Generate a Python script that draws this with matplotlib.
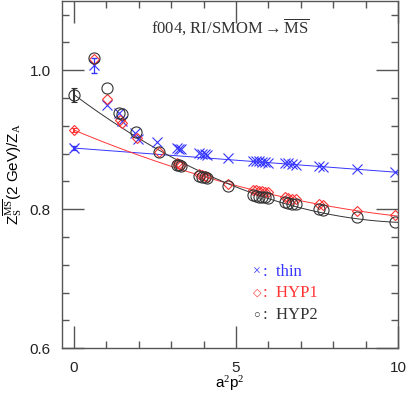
import numpy as np
import matplotlib
matplotlib.use("Agg")
import matplotlib.pyplot as plt
from matplotlib.ticker import MultipleLocator

plt.rcParams['mathtext.fontset'] = 'custom'
plt.rcParams['mathtext.rm'] = 'Liberation Serif'
plt.rcParams['mathtext.it'] = 'Liberation Serif:italic'

# extrapolated values at a^2p^2 = 0  (thin, HYP1, HYP2)
ext_y = [0.888, 0.914, 0.965]
ext_err = [0.003, 0.003, 0.010]

thin_x = [0.63, 1.01, 1.38, 1.48, 1.90, 1.98, 2.57, 3.18, 3.25, 3.32, 3.86, 3.95, 4.05, 4.12, 4.77,
          5.52, 5.62, 5.72, 5.80, 5.90, 5.98, 6.50, 6.62, 6.72, 6.85, 7.55, 7.68, 8.73, 9.90]
thin_y = [1.007, 0.950, 0.938, 0.927, 0.909, 0.901, 0.897, 0.888, 0.887, 0.886, 0.881, 0.880, 0.879, 0.878, 0.874,
          0.870, 0.869, 0.869, 0.868, 0.868, 0.867, 0.866, 0.866, 0.865, 0.864, 0.862, 0.861, 0.858, 0.853]
thin_err0 = 0.011   # error on the lowest-momentum thin point

hyp1_x = [0.63, 1.01, 1.42, 1.48, 1.95, 2.62, 3.18, 3.25, 3.32, 3.86, 3.95, 4.05, 4.12, 4.77,
          5.52, 5.62, 5.72, 5.80, 5.90, 5.98, 6.50, 6.62, 6.72, 6.85, 7.55, 7.68, 8.73, 9.90]
hyp1_y = [1.016, 0.959, 0.928, 0.924, 0.902, 0.882, 0.866, 0.865, 0.864, 0.850, 0.849, 0.848, 0.847, 0.836,
          0.828, 0.827, 0.826, 0.826, 0.825, 0.824, 0.817, 0.816, 0.815, 0.814, 0.807, 0.806, 0.797, 0.791]

hyp2_x = [0.63, 1.01, 1.38, 1.48, 1.92, 2.62, 3.18, 3.25, 3.32, 3.86, 3.95, 4.05, 4.12, 4.77,
          5.52, 5.62, 5.72, 5.80, 5.90, 5.98, 6.50, 6.62, 6.72, 6.85, 7.55, 7.68, 8.73, 9.90]
hyp2_y = [1.018, 0.974, 0.939, 0.937, 0.911, 0.882, 0.864, 0.863, 0.862, 0.848, 0.847, 0.846, 0.845, 0.834,
          0.820, 0.819, 0.818, 0.818, 0.817, 0.816, 0.810, 0.809, 0.808, 0.807, 0.800, 0.799, 0.789, 0.781]

# fit curves a + b x + c x^2
fit_thin = [0.888, -0.0035, 0.0]
fit_hyp1 = [0.914, -0.0196, 0.00072]
fit_hyp2 = [0.965, -0.0348, 0.00164]

blue = '#3535ff'
red = '#ff3535'
black = '#333333'

fig = plt.figure(figsize=(4.07, 3.96), dpi=100)
ax = fig.add_axes([0.152, 0.121, 0.826, 0.877])

xx = np.linspace(0, 10, 200)
for fit, c in [(fit_thin, blue), (fit_hyp1, red), (fit_hyp2, black)]:
    ax.plot(xx, fit[0] + fit[1] * xx + fit[2] * xx**2, color=c, lw=0.7)

# data points
ax.plot(thin_x, thin_y, 'x', color=blue, ms=7, mew=0.8)
ax.errorbar(thin_x[:1], thin_y[:1], yerr=[thin_err0], fmt='none', ecolor=blue, elinewidth=0.9, capsize=2.5)
ax.plot(hyp1_x, hyp1_y, 'D', color=red, mfc='none', ms=5, mew=0.8)
ax.plot(hyp2_x, hyp2_y, 'o', color=black, mfc='none', ms=8, mew=0.8)

ax.errorbar([0], [ext_y[0]], yerr=[ext_err[0]], fmt='x', color=blue, ms=7, mew=0.9, capsize=2.5)
ax.errorbar([0], [ext_y[1]], yerr=[ext_err[1]], fmt='D', color=red, mfc='none', ms=5, mew=0.8, capsize=2)
ax.errorbar([0], [ext_y[2]], yerr=[ext_err[2]], fmt='o', color=black, mfc='none', ms=8, mew=0.8, capsize=2.5)

ax.set_xlim(-0.37, 10)
ax.set_ylim(0.6, 1.1)
ax.xaxis.set_minor_locator(MultipleLocator(1))
ax.yaxis.set_minor_locator(MultipleLocator(0.04))
ax.tick_params(which='both', direction='in', top=True, right=True, color='#555555',
               labelsize=11, labelcolor='#222222')
ax.tick_params(axis='x', pad=9)
ax.tick_params(axis='y', pad=8)
ax.tick_params(which='major', length=16, width=1)
ax.tick_params(which='minor', length=5, width=1)
ax.set_xticks([0, 5, 10])
ax.set_xticklabels(['0', '5', '10'], family='Liberation Sans')
ax.set_yticks([0.6, 0.8, 1.0])
ax.set_yticklabels(['0.6', '0.8', '1.0'], family='Liberation Sans')
for s in ax.spines.values():
    s.set_color('#555555')
    s.set_linewidth(1)

ax.set_xlabel(r'a$^2$p$^2$', fontsize=11, family='Liberation Sans', labelpad=0)
ax.set_ylabel(r'Z$_{\rm S}^{\overline{\rm MS}}$(2 GeV)/Z$_{\rm A}$', fontsize=11,
              family='Liberation Sans', labelpad=4)

ax.text(0.5, 0.925, r'f004, RI/SMOM$\rightarrow\overline{\rm MS}$', transform=ax.transAxes,
        fontsize=12, family='Liberation Serif', ha='center', va='center', color=black)

# legend as text
fams = ['Liberation Serif', 'DejaVu Sans']
leg = [('\u00d7', 10, ':  thin', blue, 0.219), ('\u25c7', 8, ':  HYP1', red, 0.158),
       ('\u25cb', 8, ':  HYP2', black, 0.095)]
for sym, fs, lab, c, yy in leg:
    ax.text(0.58, yy, sym, transform=ax.transAxes, fontsize=fs, family=fams, color=c,
            va='center', ha='center')
    ax.text(0.598, yy, lab, transform=ax.transAxes, fontsize=12, family=fams, color=c, va='center')

fig.savefig('out.png', dpi=100)
